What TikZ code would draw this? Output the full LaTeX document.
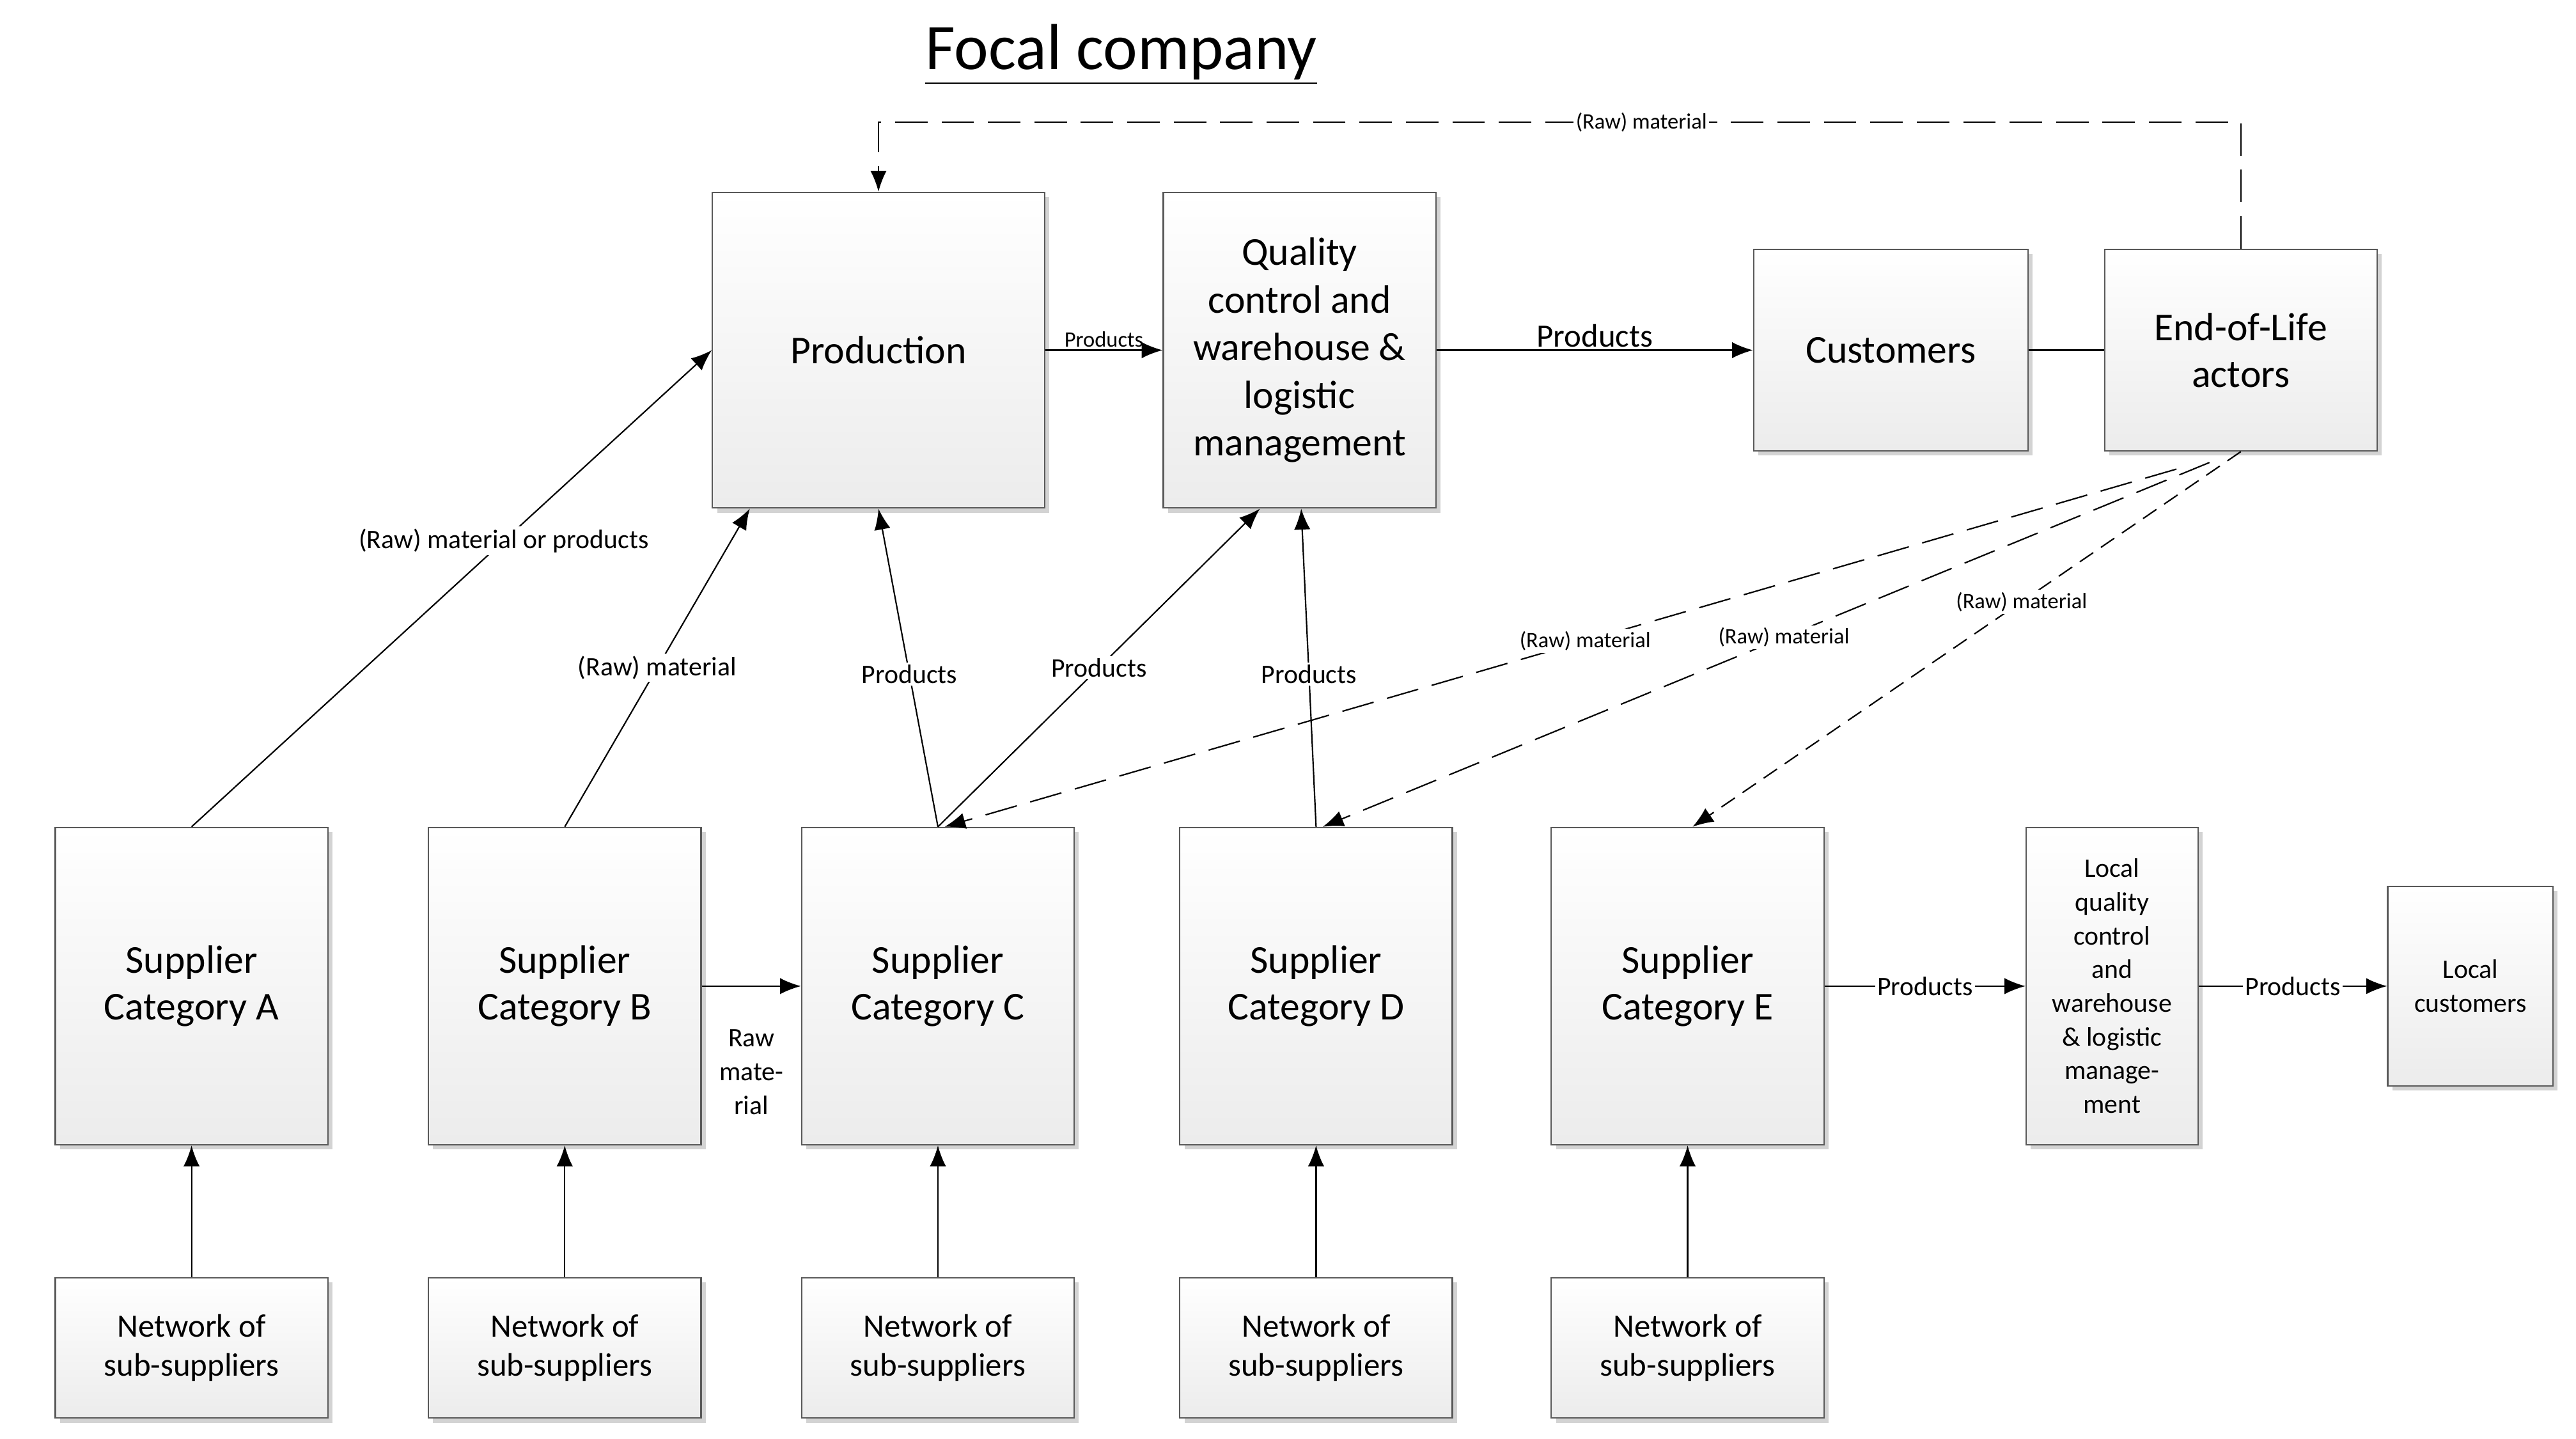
\documentclass[tikz,border=0pt]{standalone}
\usepackage{fontspec}
\setmainfont{Carlito}
\usetikzlibrary{arrows.meta,shadows}
\begin{document}
\begin{tikzpicture}[x=0.025cm,y=-0.025cm,
 box/.style={draw=gray!70!black,line width=0.6pt,top color=white,bottom color=gray!15,drop shadow={opacity=0.35,shadow xshift=2pt,shadow yshift=-2pt},align=center,font=\fontsize{17}{20}\selectfont,inner sep=2pt},
 arr/.style={-{Latex[length=9pt,width=7pt]},line width=0.6pt},
 lbl/.style={font=\fontsize{11.5}{13}\selectfont,fill=white,inner sep=1pt},
 sm/.style={font=\fontsize{9.5}{11}\selectfont,fill=white,inner sep=1pt},
 dsh/.style={dash pattern=on 14pt off 6pt}]
\useasboundingbox (0,0) rectangle (1560,871);
\node[font=\fontsize{28}{32}\selectfont] (title) at (679,33) {\underline{Focal company}};
\node[box,minimum width=5.025cm,minimum height=4.775cm] (prod) at (532,212) {Production};
\node[box,minimum width=4.125cm,minimum height=4.775cm,font=\fontsize{17}{20.5}\selectfont] (qc) at (787,212) {Quality\\control and\\warehouse \&\\logistic\\management};
\node[box,minimum width=4.15cm,minimum height=3.05cm] (cust) at (1145,212) {Customers};
\node[box,minimum width=4.125cm,minimum height=3.05cm] (eol) at (1357,212) {End-of-Life\\actors};
\foreach \n/\x/\c in {sa/116/A,sb/342/B,sc/568/C,sd/797/D,se/1022/E}{
 \node[box,minimum width=4.125cm,minimum height=4.8cm] (\n) at (\x,597) {Supplier\\Category \c};
 \node[box,minimum width=4.125cm,minimum height=2.125cm,font=\fontsize{14}{17}\selectfont] (n\n) at (\x,816) {Network of\\sub-suppliers};
 \draw[arr] (n\n) -- (\n);
}
\node[box,minimum width=2.6cm,minimum height=4.8cm,font=\fontsize{11.5}{14.5}\selectfont] (lqc) at (1279,597) {Local\\quality\\control\\and\\warehouse\\\& logistic\\manage-\\ment};
\node[box,minimum width=2.5cm,minimum height=3.025cm,font=\fontsize{11.5}{14.5}\selectfont] (lc) at (1496,597) {Local\\customers};
% focal arrows
\draw[arr] (prod) -- node[sm,above,fill=none] {Products} (qc);
\draw[arr] (qc) -- node[lbl,above,fill=none,font=\fontsize{14}{16}\selectfont] {Products} (cust);
\draw[line width=0.6pt] (cust) -- (eol);
\draw[arr,dsh] (eol.north) -- (1357,74) -- node[sm,pos=0.44] {(Raw) material} (532,74) -- (prod.north);
% supplier arrows
\draw[arr] (sa.north) -- node[lbl,pos=0.6] {(Raw) material or products} (prod.west);
\draw[arr] (sb.north) -- node[lbl,pos=0.5] {(Raw) material} ([xshift=0.575cm]prod.south west);
\draw[arr] (sc.north) -- node[lbl,pos=0.48] {Products} (prod.south);
\draw[arr] (sc.north) -- node[lbl,pos=0.5] {Products} ([xshift=-0.6cm]qc.south);
\draw[arr] (sd.north) -- node[lbl,pos=0.48] {Products} ([xshift=0.025cm]qc.south);
\coordinate (e1) at (1318,284);
\coordinate (e2) at (1338,280);
\draw[arr,dsh] (e1) -- node[sm,pos=0.48] {(Raw) material} ([xshift=0.1cm]sc.north);
\draw[arr,dsh] (e2) -- node[sm,pos=0.48] {(Raw) material} ([xshift=0.1cm]sd.north);
\draw[arr,dash pattern=on 7pt off 4pt] (eol.south) -- node[sm,pos=0.4] {(Raw) material} ([xshift=0.075cm]se.north);
\draw[arr] (sb) -- (sc);
\node[font=\fontsize{11.5}{14.5}\selectfont,align=center] at (455,649) {Raw\\mate-\\rial};
\draw[arr] (se) -- node[lbl] {Products} (lqc);
\draw[arr] (lqc) -- node[lbl] {Products} (lc);
\end{tikzpicture}
\end{document}
